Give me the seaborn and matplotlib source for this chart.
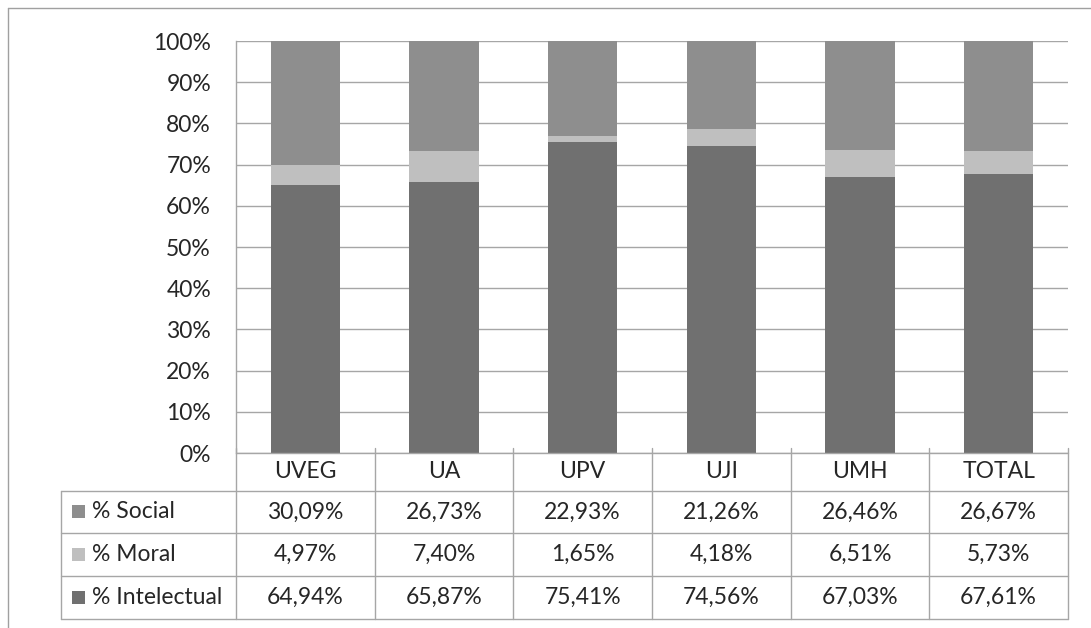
import matplotlib
matplotlib.use("Agg")
import matplotlib.pyplot as plt
import seaborn as sns
import pandas as pd
from matplotlib.lines import Line2D
from matplotlib.patches import Rectangle
from matplotlib.transforms import blended_transform_factory

categories = ["UVEG", "UA", "UPV", "UJI", "UMH", "TOTAL"]
social = [30.09, 26.73, 22.93, 21.26, 26.46, 26.67]
moral = [4.97, 7.40, 1.65, 4.18, 6.51, 5.73]
intelectual = [64.94, 65.87, 75.41, 74.56, 67.03, 67.61]
series_names = ["% Social", "% Moral", "% Intelectual"]
y_ticks = [0, 10, 20, 30, 40, 50, 60, 70, 80, 90, 100]

col_social = "#8e8e8e"
col_moral = "#bfbfbf"
col_intel = "#707070"
grid_col = "#a6a6a6"
text_col = "#262626"
FS = 16.5

sns.set_theme(style="white")
plt.rcParams['font.family'] = ['Lato', 'DejaVu Sans']

W, H = 1091, 628
fig = plt.figure(figsize=(W / 100, H / 100), dpi=100)


def fx(px):
    return px / W


def fy(py):
    return 1 - py / H


ax = fig.add_axes([fx(236), fy(453), fx(1068) - fx(236), fy(41) - fy(453)])

df = pd.DataFrame({"cat": categories, "social": social, "moral": moral, "intel": intelectual})
df["top"] = df["social"] + df["moral"] + df["intel"]
df["mid"] = df["moral"] + df["intel"]

for col, c in [("top", col_social), ("mid", col_moral), ("intel", col_intel)]:
    sns.barplot(data=df, x="cat", y=col, color=c, width=0.5, saturation=1,
                errorbar=None, linewidth=0, ax=ax, zorder=3)

ax.set_xlim(-0.5, len(categories) - 0.5)
ax.set_ylim(0, 100)
ax.set_yticks(y_ticks)
ax.set_yticklabels([f"{v}%" for v in y_ticks], fontsize=FS, color=text_col)
ax.tick_params(axis="y", length=0, pad=18)
ax.set_xticks([])
ax.set_xlabel("")
ax.set_ylabel("")
ax.yaxis.grid(True, color=grid_col, linewidth=1)
ax.set_axisbelow(True)
for s in ["top", "right", "bottom"]:
    ax.spines[s].set_visible(False)
ax.spines["left"].set_color(grid_col)
ax.spines["left"].set_linewidth(1)

# Table below the chart
trans = blended_transform_factory(ax.transData, fig.transFigure)
ftr = fig.transFigure
row_edges = [453, 491, 533, 576, 619]
n = len(categories)
x_left_data = -0.5
x_right_data = n - 0.5


def hline(py, x0_fig=None):
    if x0_fig is None:
        l = Line2D([x_left_data, x_right_data], [fy(py), fy(py)], transform=trans,
                   color=grid_col, lw=1, clip_on=False)
    else:
        x1 = ax.transData.transform((x_right_data, 0))[0] / W
        l = Line2D([x0_fig, x1], [fy(py), fy(py)], transform=ftr,
                   color=grid_col, lw=1, clip_on=False)
    fig.add_artist(l)


hline(row_edges[0])
for py in row_edges[1:]:
    hline(py, fx(61))

for i in range(n + 1):
    xd = -0.5 + i
    fig.add_artist(Line2D([xd, xd], [fy(448), fy(619)], transform=trans,
                          color=grid_col, lw=1, clip_on=False))
fig.add_artist(Line2D([fx(61), fx(61)], [fy(491), fy(619)], transform=ftr,
                      color=grid_col, lw=1))

# header
for i, c in enumerate(categories):
    fig.text(i, fy(472), c, transform=trans, ha="center", va="center",
             fontsize=FS, color=text_col)

rows = [(series_names[0], social, col_social),
        (series_names[1], moral, col_moral),
        (series_names[2], intelectual, col_intel)]
for r, (name, vals, c) in enumerate(rows):
    ymid = (row_edges[r + 1] + row_edges[r + 2]) / 2
    fig.add_artist(Rectangle((fx(72), fy(ymid + 6)), fx(13), 13 / H,
                             transform=ftr, facecolor=c, edgecolor="none"))
    fig.text(fx(92), fy(ymid), name, ha="left", va="center", fontsize=FS, color=text_col)
    for i, v in enumerate(vals):
        fig.text(i, fy(ymid), f"{v:.2f}%".replace(".", ","), transform=trans,
                 ha="center", va="center", fontsize=FS, color=text_col)

# outer frame
fig.add_artist(Line2D([fx(8), 1], [fy(8), fy(8)], transform=ftr, color="#a0a0a0", lw=1))
fig.add_artist(Line2D([fx(8), fx(8)], [fy(8), 0], transform=ftr, color="#a0a0a0", lw=1))

fig.savefig("out.png", dpi=100, facecolor="white")
